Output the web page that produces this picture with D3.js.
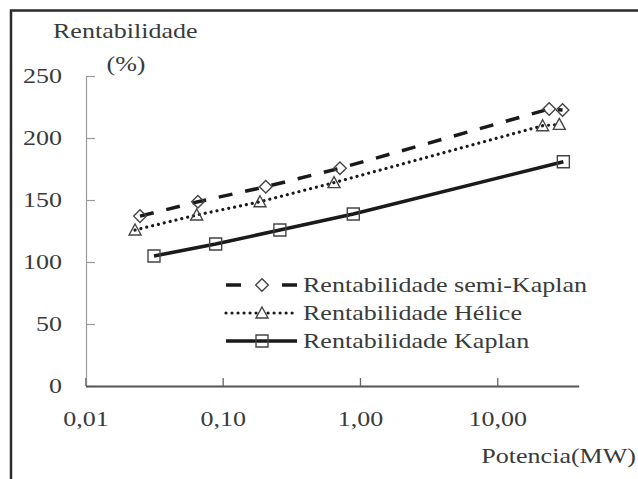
<!DOCTYPE html>
<html>
<head>
<meta charset="utf-8">
<script src="https://cdn.jsdelivr.net/npm/d3@7/dist/d3.min.js"></script>
<style>
  html, body { margin: 0; padding: 0; background: #fff; }
  svg { display: block; }
  text { font-family: "Liberation Serif", "Times New Roman", serif; fill: #3a3a3a; }
</style>
</head>
<body>
<svg id="chart" width="638" height="479"></svg>
<script>
// ---- data ----
const seriesNames = ["Rentabilidade semi-Kaplan", "Rentabilidade Hélice", "Rentabilidade Kaplan"];
const semiKaplanX = [0.025, 0.066, 0.206, 0.715, 23.9, 29.9];
const semiKaplanY = [137, 148.6, 160.7, 175.6, 223.4, 222.6];
const heliceX = [0.023, 0.0647, 0.187, 0.647, 21.4, 28.3];
const heliceY = [125.8, 137.9, 148.6, 164.0, 209.9, 211.0];
const kaplanX = [0.0316, 0.0889, 0.261, 0.894, 30.3];
const kaplanY = [104.8, 114.5, 125.8, 138.7, 180.9];
const yTicks = [0, 50, 100, 150, 200, 250];
const xTicks = [0.01, 0.1, 1, 10];
const xTickLabels = ["0,01", "0,10", "1,00", "10,00"];
const xMax = 39.2;

const FS = 21, SX = 1.24;
const FONT = "Liberation Serif";
const TXT = "#3a3a3a";
function stretch(sel, ax) {
  sel.attr("transform", `translate(${ax},0) scale(${SX},1) translate(${-ax},0)`);
}

const svg = d3.select("#chart");
const x = d3.scaleLog().domain([0.01, xMax]).range([85.4, 578.7]);
const y = d3.scaleLinear().domain([0, 250]).range([386, 76]);

// frame (only top/left visible in crop)
svg.append("path").attr("d", "M11,479 L11,10.5 L638,10.5")
  .attr("fill", "none").attr("stroke", "#2b2b2b").attr("stroke-width", 2.5);

// y axis
const yAxis = svg.append("g").attr("transform", "translate(86,0)")
  .call(d3.axisLeft(y).tickValues(yTicks).tickSizeInner(-9).tickSizeOuter(0).tickPadding(24));
yAxis.select(".domain").attr("stroke", "#999").attr("stroke-width", 1.2);
yAxis.selectAll(".tick line").attr("stroke", "#999").attr("stroke-width", 1.2);
yAxis.selectAll(".tick text").attr("font-size", FS).attr("font-family", FONT).attr("fill", TXT)
  .call(stretch, -24);

// x axis
const xAxis = svg.append("g").attr("transform", "translate(0,386)")
  .call(d3.axisBottom(x).tickValues(xTicks).tickFormat((d, i) => xTickLabels[i])
    .tickSizeInner(-8).tickSizeOuter(0).tickPadding(25));
xAxis.select(".domain").attr("stroke", "#555").attr("stroke-width", 1.8);
xAxis.selectAll(".tick line").attr("stroke", "#666").attr("stroke-width", 1.3);
xAxis.selectAll(".tick text").attr("font-size", FS).attr("font-family", FONT).attr("fill", TXT)
  .call(stretch, 0);

// titles
svg.append("text").attr("x", 53).attr("y", 38).attr("font-size", FS).text("Rentabilidade").call(stretch, 53);
svg.append("text").attr("x", 126).attr("y", 71).attr("font-size", FS).attr("text-anchor", "middle").text("(%)").call(stretch, 126);
svg.append("text").attr("x", 636).attr("y", 463).attr("font-size", FS).attr("text-anchor", "end").text("Potencia(MW)").call(stretch, 636);

// series
const series = [
  { name: seriesNames[0], xs: semiKaplanX, ys: semiKaplanY, dash: "14,13", legendDash: "15,41", cap: "butt", width: 3.5, marker: "diamond" },
  { name: seriesNames[1], xs: heliceX, ys: heliceY, dash: "0.01,6", legendDash: "0.01,6", cap: "round", width: 3.2, marker: "triangle" },
  { name: seriesNames[2], xs: kaplanX, ys: kaplanY, dash: null, legendDash: null, cap: "butt", width: 3.5, marker: "square" }
];

const line = d3.line().x(d => x(d[0])).y(d => y(d[1]));

function markerPath(type) {
  if (type === "diamond") return "M0,-6.3 L6.3,0 L0,6.3 L-6.3,0 Z";
  if (type === "triangle") return "M0,-6 L6,5 L-6,5 Z";
  return "M-6,-6 L6,-6 L6,6 L-6,6 Z";
}

series.forEach(s => {
  const pts = s.xs.map((v, i) => [v, s.ys[i]]);
  svg.append("path").datum(pts).attr("d", line)
    .attr("fill", "none").attr("stroke", "#1a1a1a").attr("stroke-width", s.width)
    .attr("stroke-dasharray", s.dash).attr("stroke-linecap", s.cap);
  svg.append("g").selectAll("path").data(pts).join("path")
    .attr("transform", d => `translate(${x(d[0])},${y(d[1])})`)
    .attr("d", markerPath(s.marker))
    .attr("fill", "none").attr("stroke", "#444").attr("stroke-width", 1.4);
});

// legend
const legendY = [285, 313, 341];
series.forEach((s, i) => {
  const g = svg.append("g").attr("transform", `translate(0,${legendY[i]})`);
  g.append("line").attr("x1", 226).attr("x2", 297).attr("y1", 0).attr("y2", 0)
    .attr("stroke", "#1a1a1a").attr("stroke-width", s.width)
    .attr("stroke-dasharray", s.legendDash).attr("stroke-linecap", s.cap);
  g.append("path").attr("transform", "translate(262,0)").attr("d", markerPath(s.marker))
    .attr("fill", s.marker === "square" ? "none" : "#fff").attr("stroke", "#444").attr("stroke-width", 1.4);
  g.append("text").attr("x", 303).attr("y", 7).attr("font-size", FS).text(s.name).call(stretch, 303);
});
</script>
</body>
</html>
